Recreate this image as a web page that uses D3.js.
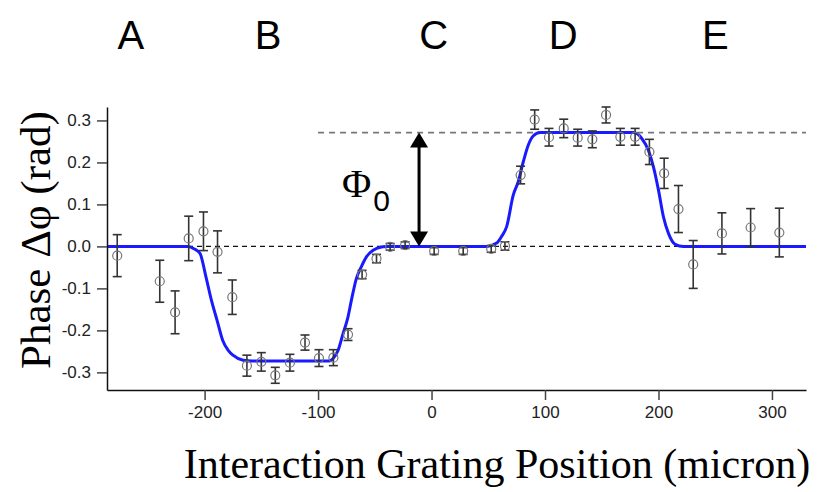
<!DOCTYPE html>
<html>
<head>
<meta charset="utf-8">
<script src="https://cdn.jsdelivr.net/npm/d3@7"></script>
<style>
  html, body { margin: 0; padding: 0; background: #fff; }
  svg { display: block; }
</style>
</head>
<body>
<div id="chart"></div>
<script>
// Measured phase shift vs. interaction grating position
const positions = [-277, -239.5, -226, -214, -201, -188.6, -175.6, -162.7, -150, -137.7, -124.8, -111.5, -99.2, -86.5, -73.6, -61.2, -48.5, -36.5, -23.3, 2.3, 27.9, 52.6, 64.7, 78.5, 90.9, 103.5, 116.5, 128.8, 141.7, 153.8, 166.4, 179.4, 192, 205, 217.6, 230.6, 255.9, 281.2, 306.5];
const phases = [-0.022, -0.083, -0.157, 0.019, 0.036, -0.013, -0.121, -0.284, -0.275, -0.307, -0.277, -0.229, -0.266, -0.265, -0.21, -0.067, -0.029, -0.001, 0.003, -0.011, -0.011, -0.006, 0.001, 0.17, 0.302, 0.26, 0.281, 0.259, 0.255, 0.313, 0.261, 0.261, 0.225, 0.174, 0.089, -0.043, 0.031, 0.045, 0.033];
const phaseErrors = [0.05, 0.05, 0.051, 0.053, 0.046, 0.05, 0.041, 0.025, 0.022, 0.019, 0.02, 0.018, 0.02, 0.019, 0.014, 0.01, 0.01, 0.008, 0.008, 0.008, 0.008, 0.008, 0.01, 0.021, 0.023, 0.021, 0.022, 0.02, 0.02, 0.019, 0.02, 0.02, 0.03, 0.036, 0.056, 0.057, 0.049, 0.045, 0.058];

// Fitted model curve
const fitX = [-286, -215, -209, -204, -199, -194, -189, -184, -179, -175, -166, -158, -90, -86.8, -82.4, -78, -73.6, -70.6, -66.2, -61.8, -57.4, -51.5, -43, -38, 48.5, 57.4, 61.8, 66.2, 72, 76.4, 80.8, 85.2, 89.6, 95.6, 177.9, 185.3, 191.1, 195.5, 200, 204.4, 208.8, 214.7, 222, 330];
const fitY = [0, 0, -0.006, -0.017, -0.07, -0.128, -0.176, -0.224, -0.248, -0.259, -0.271, -0.273, -0.273, -0.267, -0.248, -0.208, -0.168, -0.128, -0.076, -0.048, -0.025, -0.009, -0.001, 0, 0, 0.008, 0.024, 0.047, 0.122, 0.154, 0.201, 0.241, 0.263, 0.271, 0.271, 0.257, 0.229, 0.19, 0.134, 0.07, 0.031, 0.005, 0, 0];

// Phase step amplitude
const phi0 = 0.271;

// Region labels along the top
const regionNames = ["A", "B", "C", "D", "E"];
const regionCenters = [-265, -144, 2, 116, 250];

// Axis ticks
const xTickValues = [-200, -100, 0, 100, 200, 300];
const xTickLabels = ["-200", "-100", "0", "100", "200", "300"];
const yTickValues = [-0.3, -0.2, -0.1, 0.0, 0.1, 0.2, 0.3];
const yTickLabels = ["-0.3", "-0.2", "-0.1", "0.0", "0.1", "0.2", "0.3"];

const W = 827, H = 492;
const svg = d3.select("#chart").append("svg").attr("width", W).attr("height", H);
svg.append("rect").attr("width", W).attr("height", H).attr("fill", "#fff");

const x = d3.scaleLinear().domain([-286, 330]).range([107, 806]);
const y = d3.scaleLinear().domain([-0.342, 0.332]).range([390, 107]);

// Reference lines
svg.append("line")
  .attr("x1", x(-286)).attr("x2", x(330))
  .attr("y1", y(0)).attr("y2", y(0))
  .attr("stroke", "#111").attr("stroke-width", 1.3)
  .attr("stroke-dasharray", "5,4");
svg.append("line")
  .attr("x1", x(-100)).attr("x2", x(330))
  .attr("y1", y(phi0)).attr("y2", y(phi0))
  .attr("stroke", "#777").attr("stroke-width", 1.8)
  .attr("stroke-dasharray", "6,5");

// Fit curve
const fitData = fitX.map((v, i) => [v, fitY[i]]);
svg.append("path")
  .datum(fitData)
  .attr("fill", "none")
  .attr("stroke", "#1a1aff")
  .attr("stroke-width", 3)
  .attr("stroke-linejoin", "round")
  .attr("d", d3.line().x(d => x(d[0])).y(d => y(d[1])).curve(d3.curveMonotoneX));

// Data points with error bars
const pts = positions.map((p, i) => ({ x: p, y: phases[i], e: phaseErrors[i] }));
const g = svg.append("g");
const cap = 4.5;
const bars = g.selectAll("g.pt").data(pts).enter().append("g").attr("class", "pt");
bars.append("line")
  .attr("x1", d => x(d.x)).attr("x2", d => x(d.x))
  .attr("y1", d => y(d.y + d.e)).attr("y2", d => y(d.y - d.e))
  .attr("stroke", "#333").attr("stroke-width", 1.6);
bars.append("line")
  .attr("x1", d => x(d.x) - cap).attr("x2", d => x(d.x) + cap)
  .attr("y1", d => y(d.y + d.e)).attr("y2", d => y(d.y + d.e))
  .attr("stroke", "#333").attr("stroke-width", 1.6);
bars.append("line")
  .attr("x1", d => x(d.x) - cap).attr("x2", d => x(d.x) + cap)
  .attr("y1", d => y(d.y - d.e)).attr("y2", d => y(d.y - d.e))
  .attr("stroke", "#333").attr("stroke-width", 1.6);
bars.append("circle")
  .attr("cx", d => x(d.x)).attr("cy", d => y(d.y)).attr("r", 4.5)
  .attr("fill", "none").attr("stroke", "#777").attr("stroke-width", 1.2);

// Axes
const xAxis = d3.axisBottom(x).tickValues(xTickValues)
  .tickFormat((d, i) => xTickLabels[i]).tickSize(10).tickSizeOuter(0).tickPadding(6);
const yAxis = d3.axisLeft(y).tickValues(yTickValues)
  .tickFormat((d, i) => yTickLabels[i]).tickSize(10).tickSizeOuter(0).tickPadding(6);

const gx = svg.append("g").attr("transform", `translate(0,390)`).call(xAxis);
const gy = svg.append("g").attr("transform", `translate(107,0)`).call(yAxis);
[gx, gy].forEach(a => {
  a.select(".domain").attr("stroke", "#111").attr("stroke-width", 1.5);
  a.selectAll(".tick line").attr("stroke", "#444").attr("stroke-width", 1.5);
  a.selectAll(".tick text").attr("fill", "#222")
    .style("font-family", "'Liberation Sans', Arial, sans-serif").style("font-size", "17px");
});

// Double arrow marking the phase step
const ax = x(-11);
const headW = 9, headL = 15;
svg.append("line")
  .attr("x1", ax).attr("x2", ax)
  .attr("y1", y(phi0) + headL - 1).attr("y2", y(0) - headL + 1)
  .attr("stroke", "#000").attr("stroke-width", 3);
svg.append("path")
  .attr("d", `M${ax},${y(phi0)} L${ax - headW},${y(phi0) + headL} L${ax + headW},${y(phi0) + headL} Z`)
  .attr("fill", "#000");
svg.append("path")
  .attr("d", `M${ax},${y(0)} L${ax - headW},${y(0) - headL} L${ax + headW},${y(0) - headL} Z`)
  .attr("fill", "#000");

// Φ0 label
const phiLabel = svg.append("text")
  .attr("x", 342).attr("y", 197)
  .style("font-family", "'Liberation Serif', 'Times New Roman', serif")
  .style("font-size", "40px").attr("fill", "#000");
phiLabel.append("tspan").text("Φ");
phiLabel.append("tspan")
  .attr("dx", 2).attr("dy", 14)
  .style("font-family", "'Liberation Sans', Arial, sans-serif")
  .style("font-size", "30px")
  .text("0");

// Region letters
svg.selectAll("text.region").data(regionNames).enter().append("text")
  .attr("class", "region")
  .attr("x", (d, i) => x(regionCenters[i])).attr("y", 49)
  .attr("text-anchor", "middle")
  .style("font-family", "'Liberation Sans', Arial, sans-serif")
  .style("font-size", "40px").attr("fill", "#000")
  .text(d => d);

// Axis titles
svg.append("text")
  .attr("x", 497).attr("y", 478)
  .attr("text-anchor", "middle")
  .style("font-family", "'Liberation Serif', 'Times New Roman', serif")
  .style("font-size", "42px").attr("fill", "#000")
  .text("Interaction Grating Position (micron)");
svg.append("text")
  .attr("transform", "translate(50,240) rotate(-90)")
  .attr("text-anchor", "middle")
  .style("font-family", "'Liberation Serif', 'Times New Roman', serif")
  .style("font-size", "43px").attr("fill", "#000")
  .text("Phase Δφ (rad)");
</script>
</body>
</html>
